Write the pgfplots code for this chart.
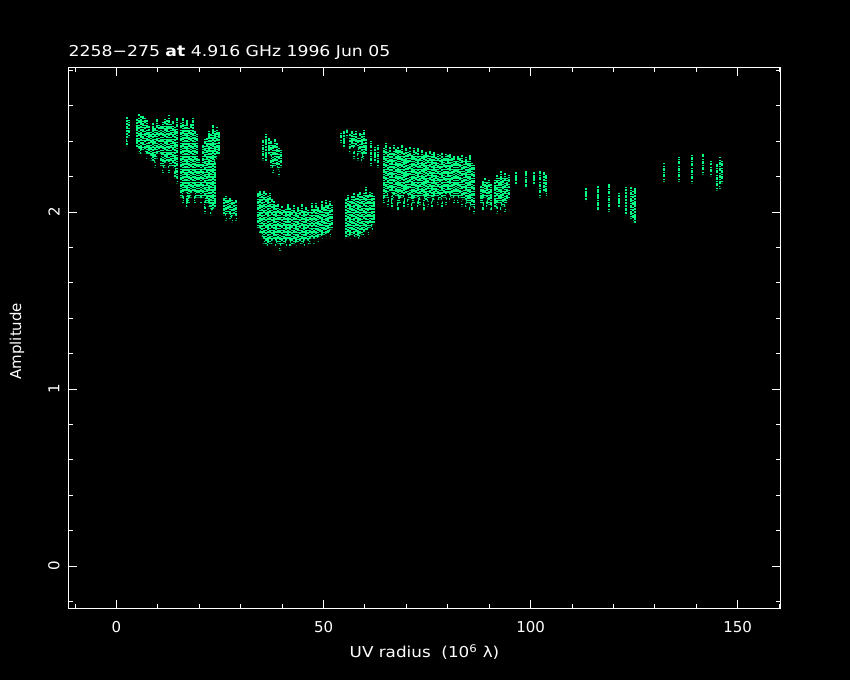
\documentclass[border=0pt]{standalone}
\usepackage{pgfplots}
\usepackage{pgfplotstable}
\pgfplotsset{compat=1.18}
\usepackage{fontspec}
\setmainfont{DejaVu Sans}
\definecolor{pgreen}{RGB}{0,255,128}

\pgfplotstableread{
x lo hi
2.54 2.36 2.54
3.02 2.41 2.52
4.95 2.35 2.53
5.43 2.32 2.56
5.92 2.31 2.55
6.40 2.34 2.54
6.88 2.32 2.53
7.37 2.29 2.52
7.85 2.31 2.49
8.33 2.28 2.46
8.82 2.27 2.51
9.30 2.24 2.48
9.78 2.29 2.53
10.27 2.32 2.49
10.75 2.25 2.49
11.23 2.21 2.51
11.72 2.24 2.53
12.20 2.27 2.52
12.68 2.21 2.55
13.16 2.25 2.50
13.65 2.24 2.52
14.13 2.18 2.48
14.61 2.15 2.53
15.58 2.07 2.51
16.06 2.04 2.53
16.55 2.10 2.49
17.03 2.01 2.52
17.51 2.04 2.48
17.99 2.07 2.50
18.48 2.10 2.53
18.96 2.04 2.46
19.44 2.07 2.44
19.93 2.07 2.30
20.41 2.04 2.27
20.89 2.07 2.38
21.38 1.98 2.41
21.86 2.04 2.42
22.34 2.01 2.46
22.83 1.97 2.44
23.31 2.00 2.49
23.79 2.01 2.46
24.28 2.29 2.48
24.76 2.31 2.45
25.97 1.97 2.08
26.45 1.94 2.09
26.93 1.98 2.07
27.42 1.95 2.08
27.90 1.93 2.07
28.38 1.97 2.06
28.86 1.94 2.07
35.39 2.28 2.41
36.11 2.27 2.44
36.84 2.31 2.42
37.32 2.24 2.40
37.80 2.21 2.38
38.29 2.25 2.41
38.77 2.23 2.39
39.25 2.19 2.36
39.73 2.24 2.35
34.18 1.90 2.11
34.66 1.87 2.12
35.14 1.84 2.10
35.63 1.81 2.12
36.11 1.80 2.11
36.59 1.79 2.09
37.08 1.81 2.11
37.56 1.80 2.08
38.04 1.83 2.07
38.53 1.79 2.04
39.01 1.81 2.05
39.49 1.77 2.02
39.98 1.80 2.04
40.46 1.81 2.01
40.94 1.79 2.02
41.43 1.83 2.05
41.91 1.79 2.03
42.39 1.80 2.01
42.87 1.81 2.04
43.36 1.79 2.00
43.84 1.82 2.03
44.32 1.80 2.02
44.81 1.81 2.05
45.29 1.79 2.01
45.77 1.83 2.03
46.26 1.80 2.02
46.74 1.81 2.00
47.22 1.84 2.05
47.71 1.81 2.02
48.19 1.84 2.05
48.67 1.82 2.03
49.15 1.85 2.01
49.64 1.83 2.06
50.12 1.86 2.03
50.60 1.84 2.07
51.09 1.87 2.04
51.57 1.85 2.06
52.05 1.89 2.04
55.43 1.84 2.08
55.92 1.85 2.10
56.40 1.83 2.07
56.88 1.86 2.09
57.37 1.84 2.11
57.85 1.85 2.08
58.33 1.83 2.10
58.82 1.84 2.12
59.30 1.86 2.09
59.78 1.85 2.11
60.27 1.88 2.14
60.75 1.86 2.10
61.23 1.90 2.12
61.71 1.88 2.11
62.20 1.92 2.09
54.23 2.38 2.45
54.95 2.35 2.46
55.68 2.41 2.47
56.40 2.32 2.44
56.88 2.35 2.46
57.37 2.29 2.44
57.85 2.36 2.46
58.33 2.28 2.42
58.82 2.32 2.45
59.30 2.27 2.44
59.78 2.29 2.47
60.27 2.31 2.41
61.47 2.25 2.40
62.44 2.27 2.37
63.16 2.24 2.38
64.61 2.04 2.36
65.10 2.07 2.39
65.58 2.02 2.35
66.06 2.10 2.37
66.55 2.01 2.34
67.03 2.06 2.38
67.51 2.08 2.36
68.00 2.00 2.37
68.48 2.04 2.35
68.96 2.07 2.38
69.44 2.01 2.34
69.93 2.09 2.36
70.41 2.02 2.35
70.89 2.06 2.37
71.38 2.00 2.33
71.86 2.04 2.36
72.34 2.07 2.34
72.83 2.01 2.36
73.31 2.03 2.32
73.79 2.08 2.35
74.28 2.00 2.33
74.76 2.05 2.34
75.24 2.02 2.32
75.72 2.07 2.35
76.21 2.01 2.33
76.69 2.05 2.34
77.17 2.08 2.31
77.66 2.03 2.33
78.14 2.06 2.32
78.62 2.01 2.34
79.11 2.07 2.31
79.59 2.03 2.33
80.07 2.09 2.32
80.56 2.05 2.33
81.04 2.07 2.31
81.52 2.04 2.32
82.00 2.08 2.29
82.49 2.04 2.32
82.97 2.07 2.31
83.45 2.02 2.32
83.94 2.06 2.29
84.42 2.01 2.31
84.90 2.04 2.29
85.39 2.00 2.32
85.87 2.02 2.28
86.35 1.98 2.27
88.04 2.04 2.15
88.53 2.00 2.18
89.01 2.07 2.19
89.49 2.01 2.17
89.98 2.03 2.18
90.46 2.00 2.16
91.43 2.01 2.18
91.91 1.98 2.21
92.39 2.04 2.19
92.87 2.00 2.23
93.36 2.02 2.20
93.84 1.99 2.22
94.32 2.04 2.19
94.81 2.06 2.21
96.50 2.14 2.23
98.91 2.13 2.23
100.85 2.14 2.23
102.29 2.07 2.23
103.26 2.10 2.23
103.74 2.08 2.21
113.41 2.05 2.14
116.30 2.00 2.15
118.96 1.99 2.16
121.38 2.01 2.11
123.07 1.97 2.14
124.28 1.95 2.14
124.76 1.93 2.12
125.24 1.92 2.14
132.25 2.16 2.28
135.87 2.16 2.31
139.01 2.15 2.33
141.67 2.20 2.33
143.60 2.19 2.29
145.05 2.11 2.27
145.77 2.12 2.31
146.26 2.15 2.29
}\streaks

\begin{document}
\fontsize{15bp}{18bp}\selectfont
\begin{tikzpicture}
\fill[black] (-68.5bp,-72bp) rectangle (781.5bp,608bp);
\begin{axis}[
  at={(0,0)}, anchor=south west,
  scale only axis, width=712bp, height=540bp,
  xmin=-11.59, xmax=160.35, ymin=-0.237, ymax=2.814,
  axis line style={white, line width=1bp},
  tick style={white, line width=1bp},
  tick align=inside,
  major tick length=8.5bp, minor tick length=4.3bp,
  xtick={0,50,100,150},
  minor xtick={-10,10,20,30,40,60,70,80,90,110,120,130,140,160},
  ytick={0,1,2},
  minor ytick={-0.2,0.2,0.4,0.6,0.8,1.2,1.4,1.6,1.8,2.2,2.4,2.6,2.8},
  /pgf/number format/assume math mode=true,
  ticklabel style={white, font=\fontsize{15bp}{18bp}\selectfont},
  xticklabel style={anchor=center, yshift=-19bp},
  yticklabel style={xshift=-14.5bp, rotate=90, anchor=center},
  clip=false,
]
\addplot[only marks, mark=none,
  error bars/.cd, y dir=plus, y explicit, error mark=none,
  error bar style={line width=1.4bp, color=pgreen,
    dash pattern=on 2.6bp off 0.9bp on 1.4bp off 1.5bp on 3.4bp off 0.8bp on 1.3bp off 1.1bp}]
  table[x=x, y=lo, y error expr=\thisrow{hi}-\thisrow{lo}] {\streaks};
\node[white, anchor=base west, inner sep=0pt, xscale=1.15] at (rel axis cs:0,1) [yshift=11bp] {2258−275 \textbf{at} 4.916 GHz 1996 Jun 05};
\node[white, anchor=center, xscale=1.12] at (axis description cs:0.5,-0.0815) {UV radius\ \ (10\textsuperscript{6} λ)};
\node[white, anchor=center, rotate=90] at (axis description cs:-0.0724,0.494) {Amplitude};
\end{axis}
\end{tikzpicture}
\end{document}
